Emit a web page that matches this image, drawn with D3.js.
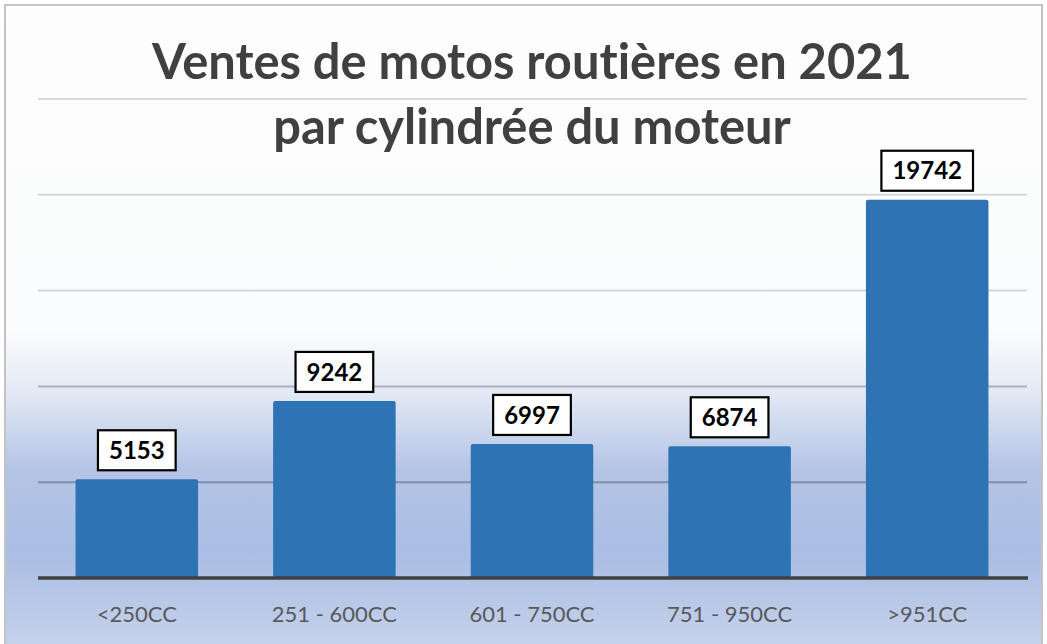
<!DOCTYPE html>
<html>
<head>
<meta charset="utf-8">
<script src="https://cdn.jsdelivr.net/npm/d3@7"></script>
<style>
  body { margin: 0; background: #fff; }
  svg text { font-family: Lato, "Open Sans", sans-serif; font-variant-ligatures: none; }
</style>
</head>
<body>
<div id="chart"></div>
<script>
const width = 1047;
const height = 644;

const titleLines = ['Ventes de motos routières en 2021', 'par cylindrée du moteur'];
const categories = ['<250CC', '251 - 600CC', '601 - 750CC', '751 - 950CC', '>951CC'];
const sales = [5153, 9242, 6997, 6874, 19742];
const gridTicks = [0, 5000, 10000, 15000, 20000, 25000];

const svg = d3.select('#chart')
    .append('svg')
    .attr('width', width)
    .attr('height', height);

const defs = svg.append('defs');

// background fade: white on top, blue toward the bottom
const bg = defs.append('linearGradient')
    .attr('id', 'bgGrad')
    .attr('gradientUnits', 'userSpaceOnUse')
    .attr('x1', 0).attr('y1', 0).attr('x2', 0).attr('y2', height);
[[0, '#fdfdfd'], [0.51, '#fbfcfd'], [0.61, '#e3e9f5'], [0.73, '#b3c4e6'],
 [0.86, '#aabde3'], [1, '#c5d2eb']].forEach(function (s) {
    bg.append('stop').attr('offset', s[0]).attr('stop-color', s[1]);
});

const gg = defs.append('linearGradient')
    .attr('id', 'gridGrad')
    .attr('gradientUnits', 'userSpaceOnUse')
    .attr('x1', 0).attr('y1', 0).attr('x2', 0).attr('y2', height);
[[0, '#dcdcdc'], [0.5, '#d4d6da'], [0.6, '#aab0bc'], [0.75, '#7f8ea6'], [1, '#7f8ea6']].forEach(function (s) {
    gg.append('stop').attr('offset', s[0]).attr('stop-color', s[1]);
});

svg.append('rect')
    .attr('x', 5).attr('y', 5)
    .attr('width', 1037).attr('height', height + 10)
    .attr('fill', 'url(#bgGrad)')
    .attr('stroke', '#c3c3c3')
    .attr('stroke-width', 2);

const xScale = d3.scaleBand()
    .domain(categories)
    .range([38, 1026])
    .paddingInner(0.38)
    .paddingOuter(0.19);

const yScale = d3.scaleLinear()
    .domain([0, 25000])
    .range([578, 99]);

// gridlines
svg.selectAll('.grid')
    .data(gridTicks.slice(1))
    .enter()
    .append('line')
    .attr('class', 'grid')
    .attr('x1', 38)
    .attr('x2', 1027)
    .attr('y1', function (d) { return yScale(d); })
    .attr('y2', function (d) { return yScale(d); })
    .attr('stroke', 'url(#gridGrad)')
    .attr('stroke-width', 2);

// title
svg.selectAll('.title')
    .data(titleLines)
    .enter()
    .append('text')
    .attr('class', 'title')
    .attr('x', 532)
    .attr('y', function (d, i) { return 79 + i * 65; })
    .attr('text-anchor', 'middle')
    .attr('fill', '#404040')
    .style('font-weight', 'bold')
    .style('font-size', '46px')
    .text(function (d) { return d; });

// fit first title line to the reference width
const t0 = svg.select('.title').node();
const w0 = t0.getComputedTextLength();
const fs = 46 * 760 / w0;
svg.selectAll('.title').style('font-size', fs + 'px');

// bars
svg.selectAll('.bar')
    .data(sales)
    .enter()
    .append('rect')
    .attr('class', 'bar')
    .attr('x', function (d, i) { return xScale(categories[i]); })
    .attr('y', function (d) { return yScale(d); })
    .attr('width', xScale.bandwidth())
    .attr('height', function (d) { return yScale(0) - yScale(d); })
    .attr('rx', 2)
    .attr('fill', '#2e74b5');

// baseline
svg.append('line')
    .attr('x1', 38).attr('x2', 1028)
    .attr('y1', yScale(0)).attr('y2', yScale(0))
    .attr('stroke', '#404040')
    .attr('stroke-width', 3.5);

// value labels in boxes
const labels = svg.selectAll('.vlabel')
    .data(sales)
    .enter()
    .append('g')
    .attr('class', 'vlabel')
    .attr('transform', function (d, i) {
        return 'translate(' + (xScale(categories[i]) + xScale.bandwidth() / 2) + ',' + (yScale(d) - 29) + ')';
    });

const boxes = labels.append('rect')
    .attr('fill', '#fff')
    .attr('stroke', '#000')
    .attr('stroke-width', 2.2);

const vtext = labels.append('text')
    .attr('text-anchor', 'middle')
    .attr('dy', '0.36em')
    .attr('fill', '#000')
    .style('font-weight', 'bold')
    .style('font-size', '24px')
    .text(function (d) { return d; });

vtext.each(function (d, i) {
    const w = this.getComputedTextLength() + 22;
    d3.select(boxes.nodes()[i])
        .attr('x', -w / 2)
        .attr('y', -20)
        .attr('width', w)
        .attr('height', 40);
});

// category labels
svg.selectAll('.xlabel')
    .data(categories)
    .enter()
    .append('text')
    .attr('class', 'xlabel')
    .attr('x', function (d) { return xScale(d) + xScale.bandwidth() / 2; })
    .attr('y', 622)
    .attr('text-anchor', 'middle')
    .attr('fill', '#595959')
    .style('font-size', '22px')
    .text(function (d) { return d; });
</script>
</body>
</html>
